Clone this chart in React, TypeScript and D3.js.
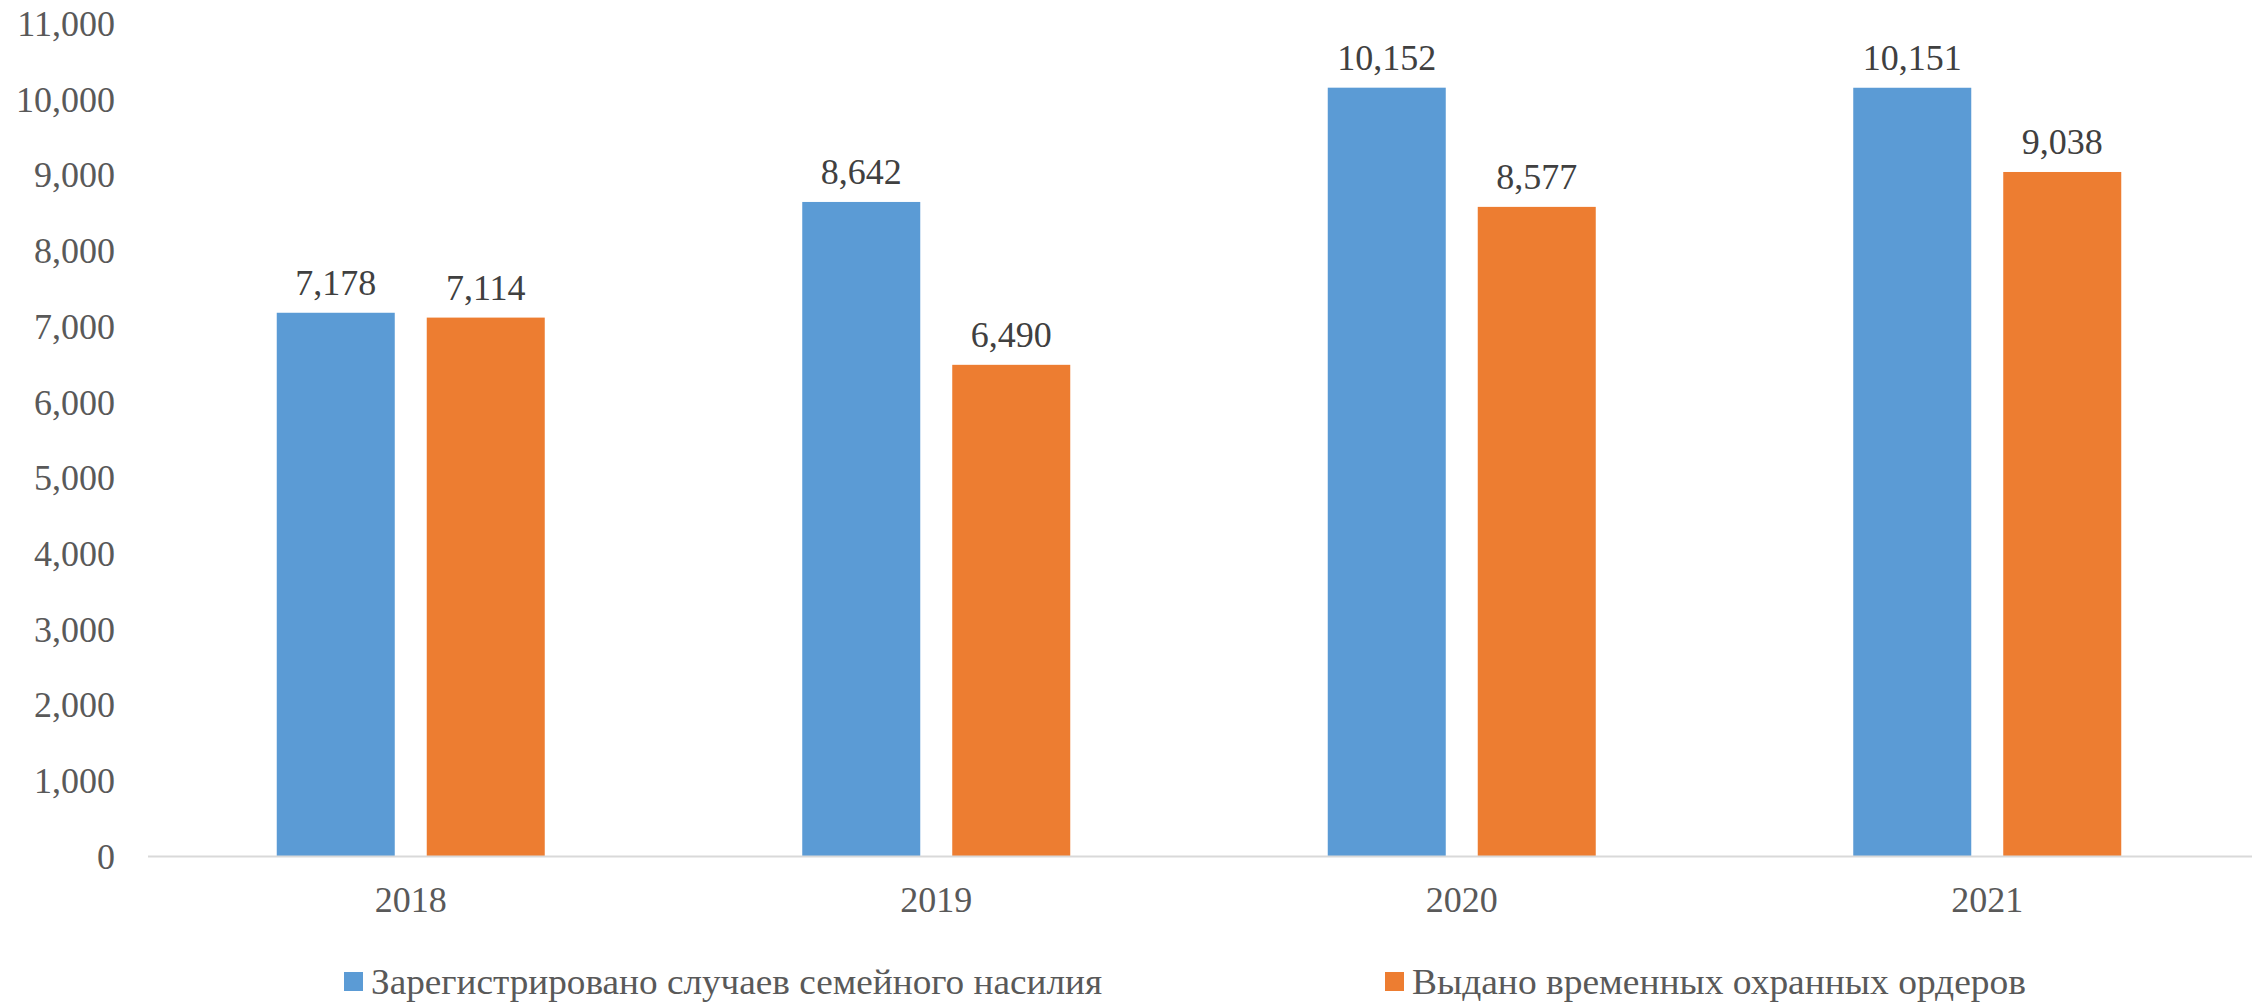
import React from "react";
import * as d3 from "d3";

const years = ["2018", "2019", "2020", "2021"];
const seriesNames = [
  "Зарегистрировано случаев семейного насилия",
  "Выдано временных охранных ордеров",
];
const registered = [7178, 8642, 10152, 10151];
const orders = [7114, 6490, 8577, 9038];
const yTicks = [0, 1000, 2000, 3000, 4000, 5000, 6000, 7000, 8000, 9000, 10000, 11000];
const colors = ["#5B9BD5", "#ED7D31"];

const W = 2252;
const H = 1004;
const FONT = "'Liberation Serif', 'Times New Roman', serif";

export default function App() {
  const x0 = d3.scaleBand<string>().domain(years).range([148, 2250]).paddingInner(0).paddingOuter(0);
  const groupW = 268;
  const x1 = d3.scaleBand<number>().domain([0, 1]).range([0, groupW]).paddingInner(0.2133).paddingOuter(0);
  const y = d3.scaleLinear().domain([0, 11000]).range([856, 23.5]);
  const fmt = d3.format(",");
  const series = [registered, orders];
  const legendX = [344, 1385];
  const legendLen = [731, 614];

  return (
    <svg width={W} height={H} style={{ display: "block", position: "absolute", left: 0, top: 0 }} fontFamily={FONT}>
      <rect x={0} y={0} width={W} height={H} fill="#fff" />
      {yTicks.map((t) => (
        <text key={t} x={115} y={y(t)} dy="0.35em" textAnchor="end" fontSize={36} fill="#595959">
          {fmt(t)}
        </text>
      ))}
      {years.map((yr, i) => {
        const gx = (x0(yr) as number) + (x0.bandwidth() - groupW) / 2;
        return (
          <g key={yr}>
            {series.map((s, si) => {
              const bx = gx + (x1(si) as number);
              const v = s[i];
              return (
                <g key={si}>
                  <rect x={bx} y={y(v)} width={x1.bandwidth()} height={y(0) - y(v)} fill={colors[si]} />
                  <text x={bx + x1.bandwidth() / 2} y={y(v) - 18} textAnchor="middle" fontSize={36} fill="#404040">
                    {fmt(v)}
                  </text>
                </g>
              );
            })}
            <text x={(x0(yr) as number) + x0.bandwidth() / 2} y={912} textAnchor="middle" fontSize={36} fill="#595959">
              {yr}
            </text>
          </g>
        );
      })}
      <line x1={148} x2={2252} y1={y(0) + 0.5} y2={y(0) + 0.5} stroke="#D9D9D9" strokeWidth={2} />
      {seriesNames.map((name, i) => {
        const lx = legendX[i];
        return (
          <g key={name}>
            <rect x={lx} y={972} width={19} height={19} fill={colors[i]} />
            <text
              x={lx + 27}
              y={994}
              fontSize={36}
              fill="#595959"
              textLength={legendLen[i]}
              lengthAdjust="spacingAndGlyphs"
            >
              {name}
            </text>
          </g>
        );
      })}
    </svg>
  );
}
